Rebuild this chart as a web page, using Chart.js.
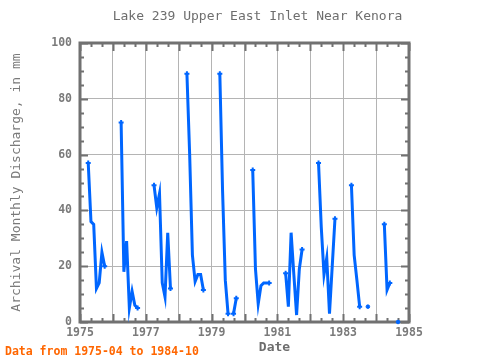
<!DOCTYPE html>
<html><head><meta charset="utf-8">
<script src="https://cdn.jsdelivr.net/npm/chart.js@4/dist/chart.umd.min.js"></script>
<style>html,body{margin:0;padding:0;background:#fff;}#wrap{width:480px;height:360px;position:relative;}</style>
</head><body><div id="wrap"><canvas id="c" width="480" height="360"></canvas></div>
<script>
// Monthly values, April..October of each year (null = missing)
const seasonMonths = [4, 5, 6, 7, 8, 9, 10];
const years = [1975, 1976, 1977, 1978, 1979, 1980, 1981, 1982, 1983, 1984];
const v1975 = [57, 36, 35, 12, 14, 25, 20];
const v1976 = [71.5, 18, 29, 5, 11, 6, 5];
const v1977 = [49, 41, 46, 14, 9, 32, 12];
const v1978 = [89, 60, 24, 14.5, 17, 17, 11.5];
const v1979 = [89, 47, 15, 3, null, 3, 8.5];
const v1980 = [54.5, 19, 6.5, 13, 14, 14, 14];
const v1981 = [17.5, 5.5, 32, 17, 2.5, 19, 26];
const v1982 = [57, 34, 17, 23, 3, 20, 37];
const v1983 = [49, 24, 15, 5.5, null, null, 5.5];
const v1984 = [35, 11.5, 14, null, null, 0, null];
const seriesByYear = [v1975, v1976, v1977, v1978, v1979, v1980, v1981, v1982, v1983, v1984];
const xTickLabels = ['1975', '1977', '1979', '1981', '1983', '1985'];
const yTickValues = [0, 20, 40, 60, 80, 100];

const titleText = 'Lake 239 Upper East Inlet Near Kenora';
const yTitleText = 'Archival Monthly Discharge, in mm';
const xTitleText = 'Date';
const noteText = 'Data from 1975-04 to 1984-10';

const points = [];
years.forEach((yr, i) => {
  seriesByYear[i].forEach((v, j) => {
    points.push({x: yr + (seasonMonths[j] - 1) / 12, y: v});
  });
  points.push({x: yr + 10 / 12, y: null});
});

function isNull(p) { return !p || p.y === null; }
function endKind(ctx) {
  const i = ctx.dataIndex;
  const d = ctx.dataset.data;
  if (isNull(d[i])) return 0;
  const pn = isNull(d[i - 1]), nn = isNull(d[i + 1]);
  if (pn && nn) return 2;
  if (pn || nn) return 1;
  return 0;
}

const MONO = "'DejaVu Sans Mono', 'Liberation Mono', monospace";

const frame = {
  id: 'frame',
  beforeDatasetsDraw(chart) {
    const {ctx, chartArea: a, scales: {x, y}} = chart;
    ctx.save();
    ctx.strokeStyle = '#717171';
    ctx.lineWidth = 2;
    for (let k = 0; k <= 30; k++) {
      const px = Math.round(x.getPixelForValue(x.min + k / 3)) + 0.5;
      const len = (k % 3 === 0) ? 8 : 4;
      ctx.beginPath();
      ctx.moveTo(px, a.bottom); ctx.lineTo(px, a.bottom - len);
      ctx.moveTo(px, a.top); ctx.lineTo(px, a.top + len);
      ctx.stroke();
    }
    for (let k = 0; k <= 20; k++) {
      const py = Math.round(y.getPixelForValue(y.min + k * 5)) + 0.5;
      const len = (k % 4 === 0) ? 8 : 4;
      ctx.beginPath();
      ctx.moveTo(a.left, py); ctx.lineTo(a.left + len, py);
      ctx.moveTo(a.right, py); ctx.lineTo(a.right - len, py);
      ctx.stroke();
    }
    ctx.lineWidth = 3;
    ctx.strokeRect(a.left, a.top, a.right - a.left, a.bottom - a.top);
    ctx.restore();
  },
  afterDraw(chart) {
    const {ctx} = chart;
    ctx.save();
    ctx.textBaseline = 'middle';
    ctx.fillStyle = '#6e6e6e';
    ctx.font = '13px ' + MONO;
    ctx.textAlign = 'center';
    ctx.fillText(titleText, 257.5, 17);
    ctx.font = 'bold 13px ' + MONO;
    ctx.fillStyle = '#6e6e6e';
    ctx.fillText(xTitleText, 274.5, 348);
    ctx.textAlign = 'left';
    ctx.fillStyle = '#ff6600';
    ctx.font = 'bold 11.5px ' + MONO;
    ctx.fillText(noteText, 5, 352.5);
    ctx.restore();
  }
};

new Chart(document.getElementById('c'), {
  type: 'line',
  data: {
    datasets: [{
      data: points,
      borderColor: '#0066ff',
      backgroundColor: '#0066ff',
      borderWidth: 3,
      spanGaps: false,
      clip: false,
      tension: 0,
      pointRadius: (c) => { const k = endKind(c); return k === 2 ? 1.8 : (k === 1 ? 2.5 : 0); },
      pointStyle: (c) => endKind(c) === 2 ? 'circle' : 'cross',
      pointBorderWidth: (c) => endKind(c) === 2 ? 1 : 2,
      pointBorderColor: '#0066ff',
      pointBackgroundColor: '#0066ff'
    }]
  },
  options: {
    responsive: false,
    animation: false,
    devicePixelRatio: 1,
    layout: {padding: {left: 0, right: 71, top: 43, bottom: 0}},
    plugins: {legend: {display: false}, tooltip: {enabled: false}, title: {display: false}},
    scales: {
      x: {
        type: 'linear', min: 1975, max: 1985,
        afterFit(s) { s.height = 38; },
        ticks: {
          stepSize: 1, autoSkip: false, maxRotation: 0,
          callback: (v) => xTickLabels.includes(String(v)) ? String(v) : '',
          font: {family: MONO, size: 11.5, weight: 'bold'}, color: '#7a7a7a', padding: 4
        },
        grid: {color: '#b4b4b4', lineWidth: 1, drawTicks: false},
        border: {display: false}
      },
      y: {
        min: 0, max: 100,
        afterFit(s) { s.width = 80; },
        afterBuildTicks(s) { s.ticks = yTickValues.map(v => ({value: v})); },
        ticks: {
          font: {family: MONO, size: 11.5, weight: 'bold'}, color: '#7a7a7a', padding: 8
        },
        grid: {color: '#b4b4b4', lineWidth: 1, drawTicks: false},
        border: {display: false},
        title: {
          display: true, text: yTitleText,
          font: {family: MONO, size: 13}, color: '#7a7a7a',
          padding: {top: 9, bottom: 0}
        }
      }
    }
  },
  plugins: [frame]
});
</script>
</body></html>
